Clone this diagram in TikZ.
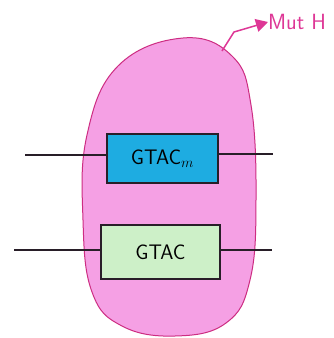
\documentclass[tikz,border=0pt]{standalone}
\usetikzlibrary{arrows.meta}
\definecolor{blobfill}{RGB}{245,160,228}
\definecolor{blobline}{RGB}{205,45,130}
\definecolor{bluefill}{RGB}{30,172,225}
\definecolor{greenfill}{RGB}{205,240,200}
\definecolor{labelpink}{RGB}{222,55,150}
\definecolor{inkline}{RGB}{40,30,40}
\begin{document}
\begin{tikzpicture}[x=1pt,y=-1pt,
  genebox/.style={draw=inkline,line width=1.2pt,inner sep=0pt,font=\sffamily\fontsize{21}{24}\selectfont},
  wire/.style={draw=inkline,line width=1.2pt}]
\useasboundingbox (0,0) rectangle (334,338);
\fill[white] (0,0) rectangle (334,338);
\draw[blobline,fill=blobfill,line width=1pt] plot[smooth cycle,tension=0.7] coordinates {
  (183,38) (232,56) (251,105) (256,200) (250,280) (226,323) (175,336) (122,326) (92,292) (83,220) (87,135) (118,66)};
\node[genebox,fill=bluefill,minimum width=111pt,minimum height=49pt] (gm) at (162.5,158.5) {GTAC$_{m}$};
\node[genebox,fill=greenfill,minimum width=119pt,minimum height=54pt] (g) at (160.5,252) {GTAC};
\coordinate (gmL) at (25,155);
\coordinate (gmR) at (273,154);
\coordinate (gL) at (14,250);
\coordinate (gR) at (272,250);
\draw[wire] (gmL) -- (gm.west |- gmL);
\draw[wire] (gm.east |- gmR) -- (gmR);
\draw[wire] (gL) -- (g.west |- gL);
\draw[wire] (g.east |- gR) -- (gR);
\coordinate (a0) at (222,51);
\coordinate (a1) at (234,32);
\node[anchor=west,text=labelpink,font=\sffamily\fontsize{22}{24}\selectfont,inner sep=0pt] (mut) at (268,22) {Mut H};
\draw[labelpink,line width=1.5pt,-{Triangle[length=12pt,width=13pt]}] (a0) -- (a1) -- (mut.west);
\end{tikzpicture}
\end{document}
